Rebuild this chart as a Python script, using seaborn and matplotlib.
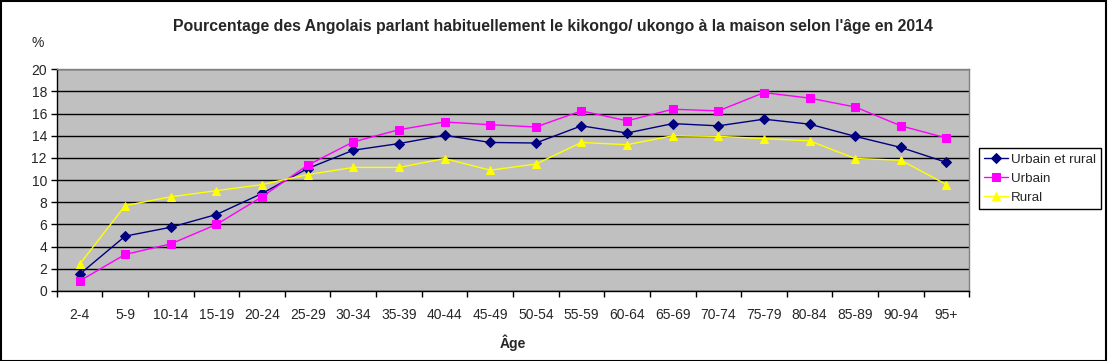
import numpy as np
import pandas as pd
import matplotlib
matplotlib.use("Agg")
import matplotlib.pyplot as plt
from matplotlib.ticker import FixedLocator, NullFormatter
import seaborn as sns

categories = ["2-4", "5-9", "10-14", "15-19", "20-24", "25-29", "30-34", "35-39",
              "40-44", "45-49", "50-54", "55-59", "60-64", "65-69", "70-74",
              "75-79", "80-84", "85-89", "90-94", "95+"]

urbain_rural = [1.5, 4.95, 5.75, 6.9, 8.8, 11.05, 12.7, 13.3, 14.05, 13.4, 13.35,
                14.9, 14.25, 15.1, 14.9, 15.5, 15.05, 13.95, 12.95, 11.6]
urbain = [0.9, 3.3, 4.25, 6.0, 8.5, 11.35, 13.45, 14.55, 15.25, 15.0, 14.8,
          16.25, 15.35, 16.4, 16.25, 17.9, 17.4, 16.6, 14.9, 13.8]
rural = [2.4, 7.7, 8.5, 9.05, 9.6, 10.5, 11.15, 11.15, 11.95, 10.9, 11.45,
         13.4, 13.2, 14.0, 13.95, 13.75, 13.55, 11.95, 11.8, 9.6]

series_names = ["Urbain et rural", "Urbain", "Rural"]
colors = ["#000080", "#FF00FF", "#FFFF00"]
markers = ["D", "s", "^"]
msizes = [5, 6, 6]

sns.set_theme(style="white")
plt.rcParams['font.family'] = ['Liberation Sans', 'DejaVu Sans']

fig = plt.figure(figsize=(11.08, 3.61), dpi=100)
ax = fig.add_axes([56.7 / 1108, 70 / 361, 912.6 / 1108, 221.7 / 361])
ax.set_facecolor("#C0C0C0")

pos = np.arange(len(categories))
for name, vals, col, mk, ms in zip(series_names, [urbain_rural, urbain, rural],
                                   colors, markers, msizes):
    df = pd.DataFrame({"x": pos, "y": vals})
    sns.lineplot(data=df, x="x", y="y", ax=ax, color=col, marker=mk,
                 markersize=ms, markeredgecolor=col, linewidth=1.0,
                 sort=False, label=name)

ax.set_xlim(-0.5, len(categories) - 0.5)
ax.set_ylim(0, 20)
ax.set_yticks(np.arange(0, 21, 2))
ax.set_xticks(pos)
ax.set_xticklabels(categories, fontsize=10)
ax.xaxis.set_minor_locator(FixedLocator(np.arange(-0.5, len(categories), 1.0)))
ax.xaxis.set_minor_formatter(NullFormatter())
ax.tick_params(axis="x", which="major", length=0, pad=12)
ax.tick_params(axis="x", which="minor", length=4, width=1, color="black",
               direction="out", bottom=True)
ax.tick_params(axis="y", length=4, width=1, color="black", direction="out",
               left=True, labelsize=10, pad=3)
ax.yaxis.grid(True, color="black", linewidth=1)
ax.xaxis.grid(False)
ax.set_axisbelow(True)
for s in ["top", "right"]:
    ax.spines[s].set_color("#808080")
    ax.spines[s].set_linewidth(1)
for s in ["left", "bottom"]:
    ax.spines[s].set_color("black")
    ax.spines[s].set_linewidth(1)

ax.set_xlabel("Âge", fontsize=10, fontweight="bold", labelpad=9)
ax.set_ylabel("")
fig.text(38 / 1108, 1 - 43 / 361, "%", fontsize=10, ha="center", va="center")
fig.text(553 / 1108, 1 - 27 / 361,
         "Pourcentage des Angolais parlant habituellement le kikongo/ ukongo à la maison selon l'âge en 2014",
         fontsize=11.4, fontweight="bold", ha="center", va="center")

leg = ax.legend(loc="upper left", bbox_to_anchor=(979 / 1108, 1 - 148 / 361),
                bbox_transform=fig.transFigure, fontsize=9.6, frameon=True,
                fancybox=False, edgecolor="black", framealpha=1,
                borderpad=0.4, labelspacing=0.5, handlelength=1.75,
                handletextpad=0.25, borderaxespad=0)
leg.get_frame().set_linewidth(1)

border = plt.Rectangle((0.0005, 0.001), 0.998, 0.997, transform=fig.transFigure,
                       fill=False, edgecolor="black", linewidth=1.5)
fig.patches.append(border)

fig.savefig("out.png", dpi=100)
